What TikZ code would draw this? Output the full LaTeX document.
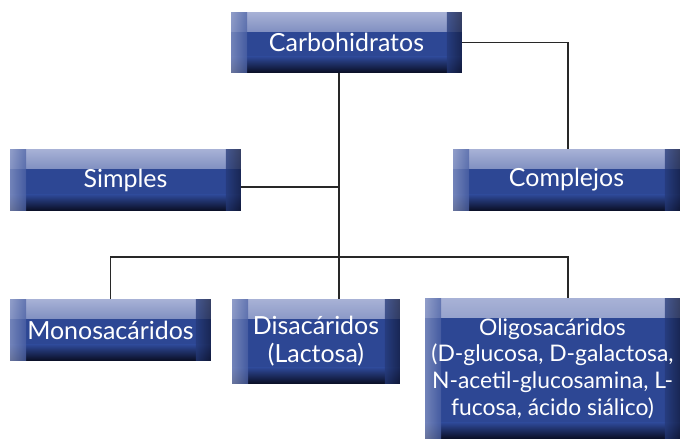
\documentclass[tikz,border=0pt]{standalone}
\usepackage{fontspec}
\setmainfont{Lato}
\usetikzlibrary{calc}

\definecolor{azul}{RGB}{45,71,148}
\definecolor{claro}{RGB}{168,178,214}
\definecolor{oscuro}{RGB}{9,13,34}
\definecolor{linea}{RGB}{40,40,40}

\pgfdeclarehorizontalshading{bordeizq}{100bp}{color(0bp)=(claro); color(100bp)=(azul)}
\pgfdeclarehorizontalshading{bordeder}{100bp}{color(0bp)=(azul); color(100bp)=(oscuro)}

\tikzset{
  caja/.style={rectangle, inner sep=0pt, fill=azul, text=white, align=center,
    font=\fontsize{14.2}{16}\selectfont,
    path picture={
      \shade[top color=claro, bottom color=azul]
        (path picture bounding box.north west) rectangle ([yshift=-0.38cm]path picture bounding box.north east);
      \shade[top color=azul, bottom color=oscuro]
        ([yshift=0.32cm]path picture bounding box.south west) rectangle (path picture bounding box.south east);
      \shade[shading=bordeizq, opacity=0.75]
        (path picture bounding box.south west) rectangle ([xshift=0.32cm]path picture bounding box.north west);
      \shade[shading=bordeder, opacity=0.75]
        ([xshift=-0.3cm]path picture bounding box.south east) rectangle (path picture bounding box.north east);
    }},
  conector/.style={draw=linea, line width=0.8pt}
}

\begin{document}
\begin{tikzpicture}[x=0.02cm,y=-0.02cm]
  \useasboundingbox (0,0) rectangle (680,439);

  \node[caja, minimum width=4.62cm, minimum height=1.22cm] (carb) at (346.5,42.5) {Carbohidratos};
  \node[caja, minimum width=4.62cm, minimum height=1.24cm] (simples) at (125.5,180) {Simples};
  \node[caja, minimum width=4.54cm, minimum height=1.24cm] (complejos) at (566.5,180) {Complejos};
  \node[caja, minimum width=4.02cm, minimum height=1.24cm] (mono) at (110.5,330) {Monosacáridos};
  \node[caja, minimum width=3.36cm, minimum height=1.7cm] (disac) at (316,341.5) {Disacáridos\\(Lactosa)};
  \node[caja, minimum width=5.1cm, minimum height=2.82cm, font=\fontsize{13}{15.2}\selectfont] (oligo) at (552.5,368.5)
    {Oligosacáridos\\(D-glucosa, D-galactosa,\\N-acetil-glucosamina, L-\\fucosa, ácido siálico)};

  \coordinate (eje) at (339,0);
  \coordinate (der) at (568,0);
  \coordinate (rama) at (0,187);
  \coordinate (barra) at (0,257);

  \draw[conector] (carb.south -| eje) -- (disac.north -| eje);
  \draw[conector] (simples.east |- rama) -- (eje |- rama);
  \draw[conector] (carb.east) -- (der |- carb.east) -- (complejos.north -| der);
  \draw[conector] (mono.north) -- (mono.north |- barra) -- (der |- barra) -- (oligo.north -| der);
\end{tikzpicture}
\end{document}
